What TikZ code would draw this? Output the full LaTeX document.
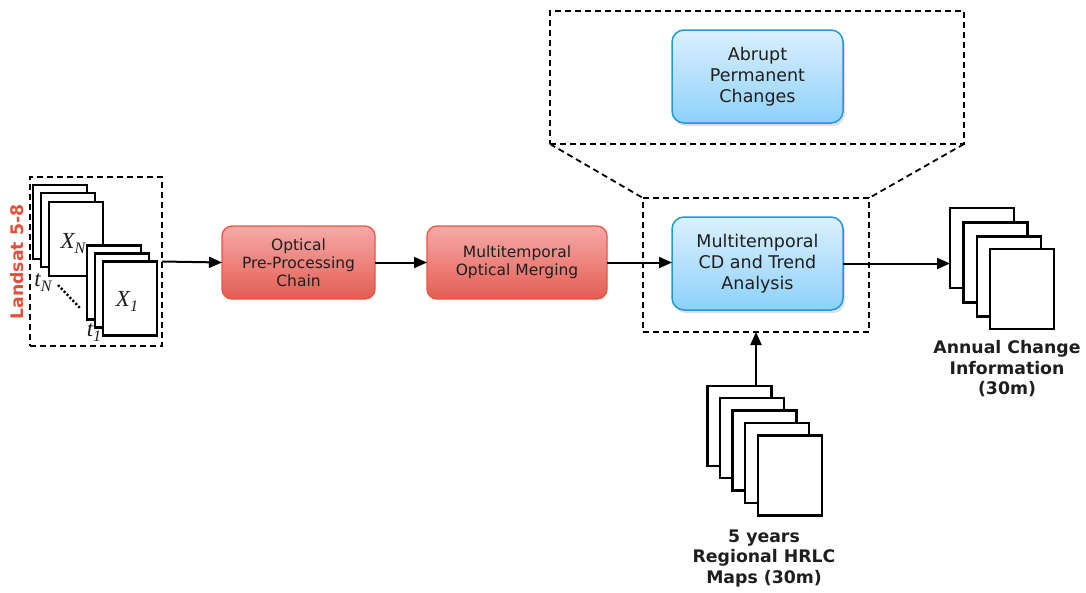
\documentclass[tikz,border=0pt]{standalone}
\usepackage{fontspec}
\setmainfont{DejaVu Sans}
\newfontfamily\lblfont{Liberation Serif}
\usetikzlibrary{arrows.meta,shadows}
\definecolor{redtop}{HTML}{F5AAA8}
\definecolor{redbot}{HTML}{E45D52}
\definecolor{redline}{HTML}{EC5440}
\definecolor{bluetop}{HTML}{DCF0FD}
\definecolor{bluebot}{HTML}{8DD1FB}
\definecolor{blueline}{HTML}{1D9AD8}
\definecolor{landred}{HTML}{EA4E3A}
\definecolor{txt}{HTML}{1E1E1E}
% italic symbol with a lowered index
\newcommand{\symsub}[2]{{\lblfont\itshape #1\raisebox{-5pt}{\fontsize{16}{16}\selectfont #2}}}
\tikzset{
  redbox/.style={draw=redline, line width=1.3pt, rounded corners=10pt,
    top color=redtop, bottom color=redbot, text=txt, align=center,
    inner sep=0pt, outer sep=0pt, font=\fontsize{15.5}{18}\selectfont},
  bluebox/.style={draw=blueline, line width=1.5pt, rounded corners=12pt,
    top color=bluetop, bottom color=bluebot, text=txt, align=center,
    inner sep=0pt, outer sep=0pt, minimum width=171pt, minimum height=93pt,
    drop shadow={shadow xshift=2pt, shadow yshift=-3pt, opacity=0.25},
    font=\fontsize{17.5}{21}\selectfont},
  dashbox/.style={draw=black, line width=1.8pt, dash pattern=on 6pt off 4pt,
    inner sep=0pt, outer sep=0pt},
  page/.style={draw=black, fill=white, line width=2.1pt, inner sep=0pt, outer sep=0pt},
  smallpage/.style={page, minimum width=54pt, minimum height=74pt},
  bigpage/.style={page, minimum width=64pt, minimum height=80pt},
  flow/.style={line width=2pt, -{Triangle[length=13pt,width=11pt]}},
  caption/.style={align=center, font=\fontsize{17.3}{20.5}\selectfont\bfseries, text=txt},
  symlbl/.style={font=\fontsize{23}{24}\selectfont, text=txt, inner sep=0pt}
}
\begin{document}
\begin{tikzpicture}[x=1pt, y=-1pt]
\useasboundingbox (0,0) rectangle (1086,592);

% Landsat input: two stacks of acquisitions
\node[dashbox, minimum width=132pt, minimum height=169pt] (ls) at (96,261.5) {};
\node[smallpage] (n1) at (60,222) {};
\node[smallpage] (n2) at (68,230) {};
\node[smallpage] (n3) at (76,239) {};
\node[symlbl] (xn) at (73,243) {\symsub{X}{N}};
\node[smallpage] (o1) at (114,282.5) {};
\node[smallpage] (o2) at (122,290.5) {};
\node[smallpage] (o3) at (130,298.5) {};
\node[symlbl] (x1) at (127,301) {\symsub{X}{1}};
\node[symlbl] (tn) at (43,283) {\symsub{t}{N}};
\node[symlbl] (t1) at (94,333) {\symsub{t}{1}};
\coordinate (d1) at (58,285);
\coordinate (d2) at (80,308);
\draw[line width=2.4pt, dash pattern=on 2.2pt off 2pt] (d1) -- (d2);
\node[rotate=90, font=\fontsize{17.3}{19}\selectfont\bfseries, text=landred] (lsl) at (17,262) {Landsat 5-8};

% Processing chain
\node[redbox, minimum width=153pt, minimum height=73pt] (r1) at (298.5,262.5) {Optical\\Pre-Processing\\Chain};
\node[redbox, minimum width=180pt, minimum height=73pt] (r2) at (517,262.5) {Multitemporal\\Optical Merging};

% Change detection and its zoomed detail
\node[dashbox, minimum width=226pt, minimum height=134pt] (cdbox) at (756,265) {};
\node[bluebox] (cd) at (757.5,263.5) {Multitemporal\\CD and Trend\\Analysis};
\node[dashbox, minimum width=414pt, minimum height=133pt] (top) at (757,77.5) {};
\node[bluebox] (ab) at (757.5,76.5) {Abrupt\\Permanent\\Changes};
\draw[dashbox] (top.south west) -- (cdbox.north west);
\draw[dashbox] (top.south east) -- (cdbox.north east);

% Output stack
\node[bigpage] (a1) at (982,248) {};
\node[bigpage] (a2) at (995.5,262.5) {};
\node[bigpage] (a3) at (1009,276.5) {};
\node[bigpage] (a4) at (1022,289) {};
\node[caption] (acap) at (1007,369) {Annual Change\\Information\\(30m)};

% Reference maps stack
\node[bigpage] (h1) at (739.5,426) {};
\node[bigpage] (h2) at (752,438) {};
\node[bigpage] (h3) at (764.5,450.5) {};
\node[bigpage] (h4) at (777,463) {};
\node[bigpage] (h5) at (790,475.5) {};
\node[caption] (hcap) at (764,558) {5 years\\Regional HRLC\\Maps (30m)};

% Connectors
\draw[flow] (ls.east) -- (r1.west);
\draw[flow] (r1.east) -- (r2.west);
\draw[flow] (r2.east) -- (r2.east -| cd.west);
\draw[flow] (cd.east) -- (cd.east -| a1.west);
\draw[flow] (h1.north -| cdbox.south) -- (cdbox.south);
\end{tikzpicture}
\end{document}
